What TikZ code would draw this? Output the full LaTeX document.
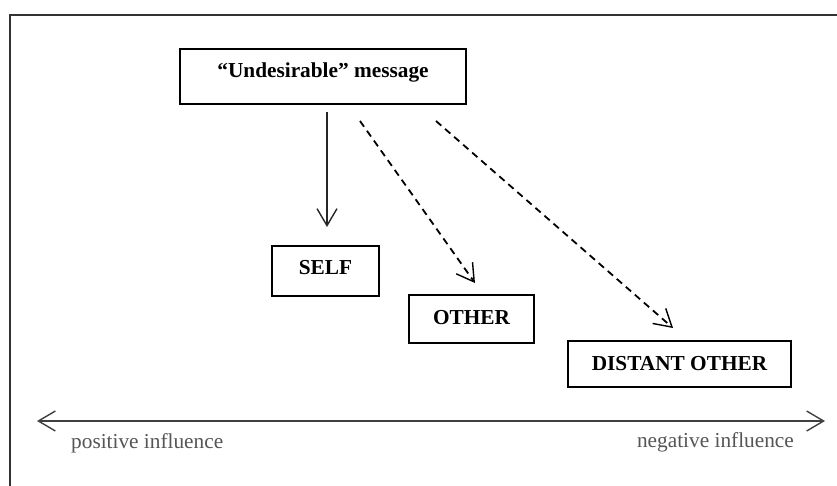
\documentclass[tikz,border=0pt]{standalone}
\usepackage{fontspec}
\setmainfont{Liberation Serif}
\usetikzlibrary{arrows.meta}
\definecolor{framecol}{HTML}{333333}
\definecolor{labelcol}{HTML}{555555}
\definecolor{axiscol}{HTML}{404040}
\tikzset{
  boxnode/.style={draw=black, line width=1.3pt, inner sep=0pt,
    font=\fontsize{21.3}{25}\selectfont\bfseries, text height=15pt},
  tipstyle/.style={-{Straight Barb[length=17pt,width=20pt,line width=1.4pt]}},
  solidarrow/.style={tipstyle, line width=1.3pt, draw=black!85},
  dasharrow/.style={tipstyle, line width=1.8pt, dash pattern=on 7pt off 5pt},
  infl/.style={font=\fontsize{21.3}{25}\selectfont, text=labelcol, inner sep=0pt}
}
\begin{document}
\begin{tikzpicture}[x=1pt,y=-1pt]
\useasboundingbox (0,0) rectangle (837,485);
\begin{scope}
\clip (0,0) rectangle (837,485);
\draw[framecol, line width=1.6pt] (10,15) rectangle (860,510);
\end{scope}

\node[boxnode, minimum width=286pt, minimum height=55pt, text depth=14pt] (msg) at (323,76.5) {“Undesirable” message};
\node[boxnode, minimum width=107pt, minimum height=50pt, text depth=9pt] (self) at (325.5,271) {SELF};
\node[boxnode, minimum width=125pt, minimum height=48pt, text depth=5pt] (other) at (471.5,319) {OTHER};
\node[boxnode, minimum width=223pt, minimum height=46pt, text depth=3pt] (distant) at (679.5,364) {DISTANT OTHER};

\coordinate (s0) at (327,112);
\coordinate (e0) at (327,227);
\coordinate (s1) at (360,121);
\coordinate (e1) at (475,283);
\coordinate (s2) at (436,121);
\coordinate (e2) at (673,328);
\draw[solidarrow] (s0) -- (e0);
\draw[dasharrow] (s1) -- (e1);
\draw[dasharrow] (s2) -- (e2);

\coordinate (axL) at (37,421);
\coordinate (axR) at (825,421);
\draw[axiscol, line width=1.4pt, {Straight Barb[length=17pt,width=20pt,line width=1.4pt]}-{Straight Barb[length=17pt,width=20pt,line width=1.4pt]}] (axL) -- (axR);

\node[infl, anchor=base west] (pos) at (71,448) {positive influence};
\node[infl, anchor=base east] (neg) at (794,447) {negative influence};
\end{tikzpicture}
\end{document}
